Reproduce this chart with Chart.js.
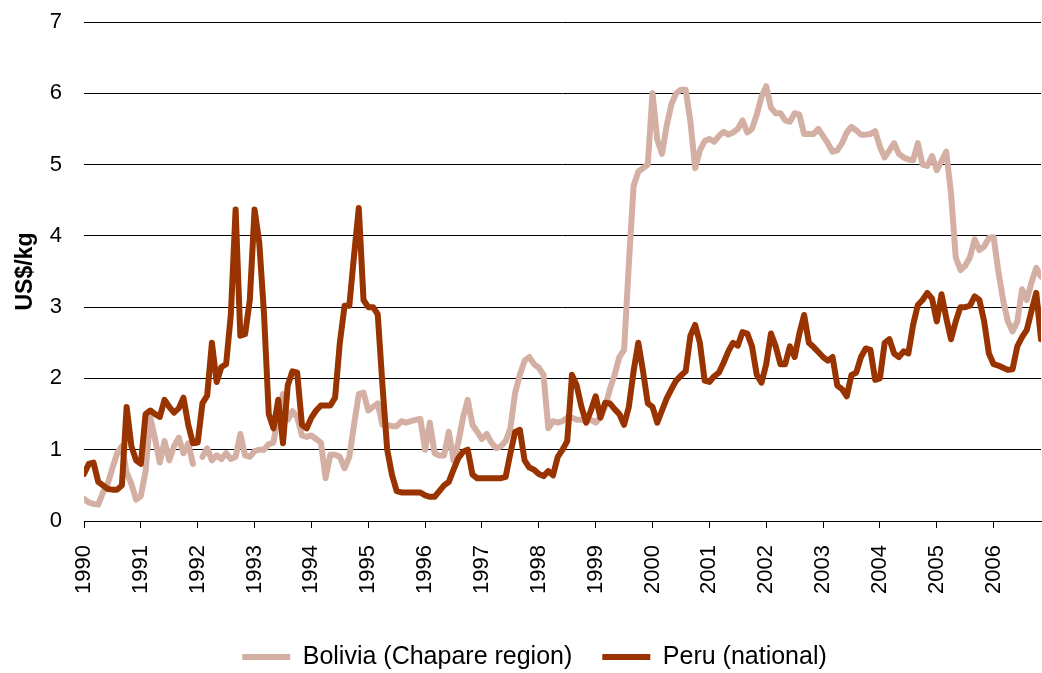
<!DOCTYPE html>
<html><head><meta charset="utf-8">
<script src="https://cdn.jsdelivr.net/npm/chart.js@4/dist/chart.umd.min.js"></script>
<style>html,body{margin:0;padding:0;background:#fff}#wrap{width:1042px;height:673px;position:relative}</style>
</head><body><div id="wrap"><canvas id="c" width="1042" height="673"></canvas></div>
<script>
// Monthly prices, Jan 1990 .. Nov 2006 (US$/kg)
const yearLabels = ['1990','1991','1992','1993','1994','1995','1996','1997','1998','1999','2000','2001','2002','2003','2004','2005','2006'];
const seriesNames = ['Bolivia (Chapare region)', 'Peru (national)'];
const bolivia = [
  0.31,0.26,0.24,0.23,0.4,0.52,0.74,0.95,1.05,0.68,0.52,0.3,
  0.35,0.7,1.45,1.15,0.82,1.12,0.85,1.05,1.17,0.95,1.09,0.8,
  null,0.9,1.02,0.85,0.92,0.87,0.95,0.87,0.9,1.22,0.92,0.9,
  0.98,1.0,1.0,1.08,1.1,1.5,1.78,1.42,1.54,1.46,1.2,1.18,
  1.2,1.15,1.1,0.6,0.93,0.93,0.9,0.74,0.9,1.35,1.78,1.8,
  1.55,1.6,1.65,1.35,1.35,1.33,1.33,1.4,1.38,1.4,1.42,1.43,
  1.0,1.38,0.95,0.92,0.92,1.25,0.85,1.1,1.45,1.7,1.35,1.25,
  1.15,1.22,1.1,1.02,1.05,1.12,1.3,1.8,2.05,2.25,2.3,2.2,
  2.15,2.05,1.3,1.4,1.38,1.4,1.45,1.45,1.42,1.42,1.4,1.42,
  1.38,1.45,1.6,1.85,2.05,2.3,2.4,3.6,4.7,4.9,4.95,5.0,
  6.0,5.35,5.15,5.55,5.85,6.0,6.05,6.05,5.6,4.95,5.2,5.33,
  5.36,5.32,5.4,5.46,5.42,5.45,5.5,5.62,5.45,5.5,5.7,5.95,
  6.1,5.8,5.72,5.72,5.62,5.6,5.72,5.7,5.43,5.43,5.43,5.5,
  5.4,5.3,5.18,5.2,5.3,5.45,5.53,5.48,5.42,5.42,5.43,5.47,
  5.25,5.1,5.2,5.3,5.15,5.1,5.07,5.06,5.3,5.0,4.98,5.12,
  4.92,5.05,5.18,4.6,3.7,3.52,3.58,3.7,3.95,3.8,3.85,3.97,
  3.98,3.5,3.1,2.8,2.66,2.8,3.25,3.1,3.35,3.55,3.43
];
const peru = [
  0.66,0.8,0.82,0.55,0.5,0.45,0.44,0.44,0.5,1.6,1.05,0.85,
  0.8,1.5,1.55,1.5,1.46,1.7,1.6,1.52,1.58,1.73,1.35,1.09,
  1.1,1.65,1.76,2.5,1.95,2.16,2.2,2.9,4.37,2.6,2.62,3.1,
  4.37,3.9,2.9,1.5,1.3,1.7,1.09,1.9,2.1,2.08,1.35,1.3,
  1.45,1.55,1.62,1.62,1.62,1.73,2.5,3.02,3.02,3.72,4.39,3.1,
  3.0,3.0,2.9,1.9,1.0,0.65,0.42,0.4,0.4,0.4,0.4,0.4,
  0.36,0.34,0.34,0.42,0.5,0.55,0.72,0.88,0.97,1.0,0.65,0.6,
  0.6,0.6,0.6,0.6,0.6,0.62,0.95,1.25,1.28,0.85,0.75,0.72,
  0.66,0.63,0.7,0.64,0.9,1.0,1.12,2.05,1.9,1.6,1.38,1.55,
  1.75,1.45,1.66,1.65,1.57,1.5,1.35,1.6,2.1,2.5,2.1,1.65,
  1.6,1.38,1.55,1.72,1.85,1.97,2.04,2.1,2.6,2.75,2.5,1.97,
  1.95,2.03,2.08,2.22,2.38,2.5,2.46,2.65,2.63,2.45,2.05,1.94,
  2.2,2.63,2.45,2.2,2.2,2.45,2.3,2.63,2.89,2.5,2.44,2.37,
  2.3,2.25,2.3,1.9,1.85,1.75,2.05,2.08,2.3,2.42,2.4,1.98,
  2.0,2.5,2.55,2.35,2.3,2.38,2.35,2.75,3.03,3.1,3.2,3.12,
  2.8,3.18,2.85,2.55,2.8,3.0,3.0,3.02,3.15,3.1,2.8,2.35,
  2.2,2.18,2.15,2.12,2.13,2.45,2.58,2.68,2.95,3.2,2.55
];
const yTicks = [0,1,2,3,4,5,6,7];

const FONT = "'Liberation Sans', Arial, sans-serif";
const toXY = arr => arr.map((v, i) => ({x: i, y: v}));
const lastIdx = Math.max(bolivia.length, peru.length) - 1;

const lineStyle = {borderWidth: 6, pointRadius: 0, pointHoverRadius: 0, tension: 0,
  borderJoinStyle: 'round', borderCapStyle: 'round', spanGaps: false, fill: false};

new Chart(document.getElementById('c'), {
  type: 'line',
  data: {
    datasets: [
      Object.assign({label: seriesNames[1], data: toXY(peru), borderColor: '#993300', backgroundColor: '#993300'}, lineStyle),
      Object.assign({label: seriesNames[0], data: toXY(bolivia), borderColor: '#D3B0A3', backgroundColor: '#D3B0A3'}, lineStyle)
    ]
  },
  options: {
    responsive: false,
    animation: false,
    events: [],
    layout: {padding: {left: 28, right: 1, top: 22, bottom: -6.5}},
    plugins: {
      tooltip: {enabled: false},
      legend: {
        position: 'bottom',
        reverse: true,
        labels: {
          color: '#000',
          font: {family: FONT, size: 25},
          boxWidth: 48,
          boxHeight: 6,
          padding: 30,
          generateLabels: function(chart) {
            const items = Chart.defaults.plugins.legend.labels.generateLabels(chart);
            items.forEach(it => { it.lineWidth = 0; });
            return items;
          }
        }
      }
    },
    scales: {
      x: {
        type: 'linear',
        min: 0,
        max: lastIdx,
        afterBuildTicks: s => { s.ticks = s.ticks.filter(t => t.value % 12 === 0); },
        afterFit: s => { s.height = 93.5; },
        ticks: {
          stepSize: 12,
          autoSkip: false,
          maxRotation: 90,
          minRotation: 90,
          color: '#000',
          font: {family: FONT, size: 22},
          padding: 17,
          callback: v => (v % 12 === 0 ? yearLabels[v / 12] : '')
        },
        grid: {drawOnChartArea: false, drawTicks: true, tickLength: 7, color: '#000', lineWidth: 1},
        border: {display: true, color: '#000', width: 1}
      },
      y: {
        min: 0,
        max: 7,
        afterBuildTicks: s => { s.ticks = yTicks.map(v => ({value: v})); },
        afterFit: s => { s.width = 56; },
        ticks: {stepSize: 1, color: '#000', font: {family: FONT, size: 22}, padding: 2},
        grid: {color: '#000', lineWidth: 1, drawTicks: true, tickLength: 20, tickColor: 'rgba(0,0,0,0)'},
        border: {display: false},
        title: {display: true, text: 'US$/kg', color: '#000', font: {family: FONT, size: 23, weight: 'bold'}, padding: {top: -16, bottom: 0}}
      }
    }
  }
});
</script>
</body></html>
